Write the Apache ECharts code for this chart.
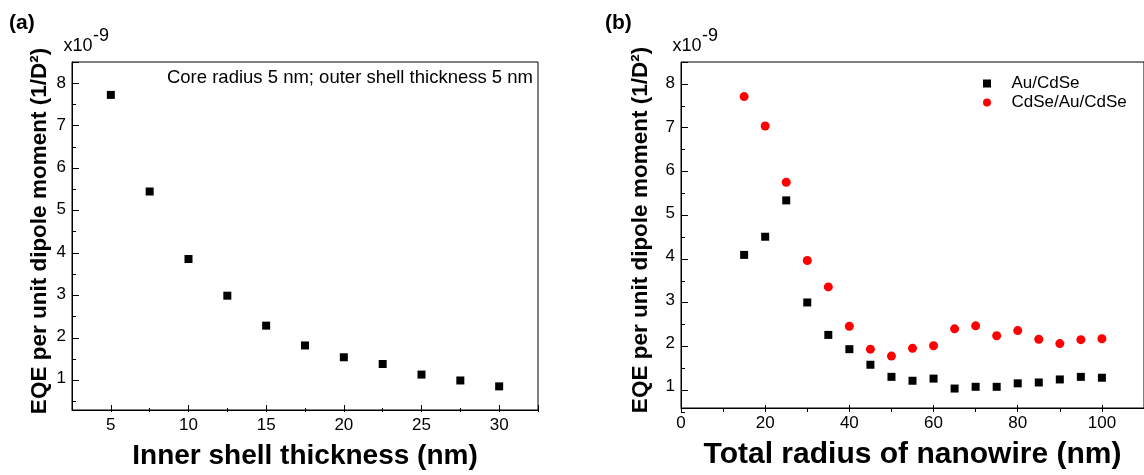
<!DOCTYPE html>
<html>
<head>
<meta charset="utf-8">
<script src="https://cdn.jsdelivr.net/npm/echarts@6/dist/echarts.min.js"></script>
<style>
  html, body { margin: 0; padding: 0; background: #fff; }
  #chart { width: 1144px; height: 475px; }
</style>
</head>
<body>
<div id="chart"></div>
<script>
// Panel (a): EQE per unit dipole moment vs inner shell thickness (x1e-9)
const innerThickness = [5, 7.5, 10, 12.5, 15, 17.5, 20, 22.5, 25, 27.5, 30];
const eqeInner = [7.72, 5.43, 3.83, 2.96, 2.25, 1.78, 1.50, 1.34, 1.09, 0.95, 0.81];

// Panel (b): EQE per unit dipole moment vs total nanowire radius (x1e-9)
const totalRadius = [15, 20, 25, 30, 35, 40, 45, 50, 55, 60, 65, 70, 75, 80, 85, 90, 95, 100];
const eqeAuCdSe = [4.04, 4.46, 5.30, 2.94, 2.19, 1.86, 1.50, 1.22, 1.13, 1.18, 0.95, 0.99, 0.99, 1.07, 1.09, 1.16, 1.22, 1.20];
const eqeCdSeAuCdSe = [7.70, 7.02, 5.72, 3.91, 3.30, 2.39, 1.86, 1.70, 1.88, 1.94, 2.33, 2.40, 2.17, 2.29, 2.09, 1.99, 2.08, 2.10];

// Tick labels
const xLabelsA = [5, 10, 15, 20, 25, 30];
const xLabelsB = [0, 20, 40, 60, 80, 100];
const yLabels = [1, 2, 3, 4, 5, 6, 7, 8];

const FONT = "'Liberation Sans', Arial, Helvetica, sans-serif";
const BLACK = '#000';
const RED = '#ff0000';

const zip = (xs, ys) => xs.map((x, i) => [x, ys[i]]);
const lineStyle = { color: BLACK, width: 1 };
const labelStyle = { show: true, color: BLACK, fontSize: 17, fontFamily: FONT };
const yName = 'EQE per unit dipole moment (1/D²)';
const yNameStyle = { color: BLACK, fontSize: 22.5, fontWeight: 'bold', fontFamily: FONT, padding: [0, 0, 0, 10] };

// Plot frames and their value ranges
const panelA = { left: 72, top: 62, width: 466, height: 350, xMin: 2.5, xMax: 32.5, yMin: 0.25, yMax: 8.5 };
const panelB = { left: 681, top: 62, width: 466, height: 350, xMin: 0, xMax: 110, yMin: 0.5, yMax: 8.5 };

const grids = [];
const xAxes = [];
const yAxes = [];

function addGrid(rect, show) {
  grids.push(Object.assign({ show: !!show, borderColor: BLACK, borderWidth: 1, containLabel: false }, rect));
  return grids.length - 1;
}
const hiddenAxis = (grid, min, max) => ({ type: 'value', gridIndex: grid, min: min, max: max, show: false });

// Main plot axes: lines and labels (ticks are added separately)
function mainAxes(P, xLabels, xName, xNameSize, yGap) {
  const g = addGrid({ left: P.left, top: P.top, width: P.width, height: P.height }, true);
  xAxes.push({
    type: 'value', gridIndex: g, min: P.xMin, max: P.xMax, position: 'bottom',
    axisLine: { show: true, onZero: false, lineStyle: lineStyle },
    axisTick: { show: false },
    axisLabel: Object.assign({ customValues: xLabels, margin: 7 }, labelStyle),
    splitLine: { show: false },
    name: xName, nameLocation: 'middle', nameGap: 32,
    nameTextStyle: { color: BLACK, fontSize: xNameSize, fontWeight: 'bold', fontFamily: FONT }
  });
  yAxes.push({
    type: 'value', gridIndex: g, min: P.yMin, max: P.yMax, position: 'left',
    axisLine: { show: true, onZero: false, lineStyle: lineStyle },
    axisTick: { show: false },
    axisLabel: Object.assign({ customValues: yLabels, margin: 6 }, labelStyle),
    splitLine: { show: false },
    name: yName, nameLocation: 'middle', nameRotate: 90, nameGap: yGap, nameTextStyle: yNameStyle
  });
  return { x: xAxes.length - 1, y: yAxes.length - 1 };
}

// Tick row along the bottom edge, starting at value `from` every `step`
function xTicks(P, from, step, len) {
  const left = P.left + (from - P.xMin) / (P.xMax - P.xMin) * P.width;
  const g = addGrid({ left: left, top: P.top, width: P.left + P.width - left, height: P.height }, false);
  xAxes.push({
    type: 'value', gridIndex: g, min: from, max: P.xMax, interval: step, position: 'bottom',
    axisLine: { show: false, onZero: false },
    axisTick: { show: true, inside: true, length: len, lineStyle: lineStyle },
    axisLabel: { show: false }, splitLine: { show: false }
  });
  yAxes.push(hiddenAxis(g, P.yMin, P.yMax));
}
// Tick column along the left edge, starting at value `from` every `step`
function yTicks(P, from, step, len) {
  const h = (P.yMax - from) / (P.yMax - P.yMin) * P.height;
  const g = addGrid({ left: P.left, top: P.top, width: P.width, height: h }, false);
  yAxes.push({
    type: 'value', gridIndex: g, min: from, max: P.yMax, interval: step, position: 'left',
    axisLine: { show: false, onZero: false },
    axisTick: { show: true, inside: true, length: len, lineStyle: lineStyle },
    axisLabel: { show: false }, splitLine: { show: false }
  });
  xAxes.push(hiddenAxis(g, P.xMin, P.xMax));
}

const axA = mainAxes(panelA, xLabelsA, 'Inner shell thickness (nm)', 28, 21);
const axB = mainAxes(panelB, xLabelsB, 'Total radius of nanowire (nm)', 30, 29);

// Major (7 px) and minor (4 px) ticks, pointing into the plot
xTicks(panelA, 5, 5, 7);
xTicks(panelA, 7.5, 5, 4);
yTicks(panelA, 1, 1, 7);
yTicks(panelA, 0.5, 1, 4);
xTicks(panelB, 0, 20, 7);
xTicks(panelB, 10, 20, 4);
yTicks(panelB, 1, 1, 7);
yTicks(panelB, 0.5, 1, 4);

function textEl(x, y, text, size, opts) {
  return {
    type: 'text', x: x, y: y, silent: true,
    style: Object.assign({
      text: text, fill: BLACK, fontSize: size, fontFamily: FONT,
      align: 'left', verticalAlign: 'middle'
    }, opts || {})
  };
}

const chart = echarts.init(document.getElementById('chart'), null, { renderer: 'canvas' });
chart.setOption({
  animation: false,
  backgroundColor: '#fff',
  grid: grids,
  xAxis: xAxes,
  yAxis: yAxes,
  legend: {
    orient: 'vertical', left: 978, top: 70,
    itemWidth: 39, itemHeight: 8, itemGap: 2, symbolKeepAspect: true,
    textStyle: { color: BLACK, fontSize: 17, fontFamily: FONT },
    data: [
      { name: 'Au/CdSe', icon: 'path://M0 0H10V10H0Z' },
      { name: 'CdSe/Au/CdSe', icon: 'circle' }
    ]
  },
  graphic: [
    textEl(9, 23, '(a)', 21, { fontWeight: 'bold' }),
    textEl(605, 23, '(b)', 21, { fontWeight: 'bold' }),
    textEl(63.5, 46.5, 'x10', 18),
    textEl(93, 36.5, '-9', 18),
    textEl(672.5, 46.5, 'x10', 18),
    textEl(702, 36.5, '-9', 18),
    textEl(533, 78, 'Core radius 5 nm; outer shell thickness 5 nm', 18.5, { align: 'right' })
  ],
  series: [
    {
      type: 'scatter', name: 'Inner shell', xAxisIndex: axA.x, yAxisIndex: axA.y,
      symbol: 'rect', symbolSize: 8, itemStyle: { color: BLACK, opacity: 1 },
      data: zip(innerThickness, eqeInner)
    },
    {
      type: 'scatter', name: 'Au/CdSe', xAxisIndex: axB.x, yAxisIndex: axB.y,
      symbol: 'rect', symbolSize: 8, itemStyle: { color: BLACK, opacity: 1 },
      data: zip(totalRadius, eqeAuCdSe)
    },
    {
      type: 'scatter', name: 'CdSe/Au/CdSe', xAxisIndex: axB.x, yAxisIndex: axB.y,
      symbol: 'circle', symbolSize: 9, itemStyle: { color: RED, opacity: 1 },
      data: zip(totalRadius, eqeCdSeAuCdSe)
    }
  ]
});
</script>
</body>
</html>
